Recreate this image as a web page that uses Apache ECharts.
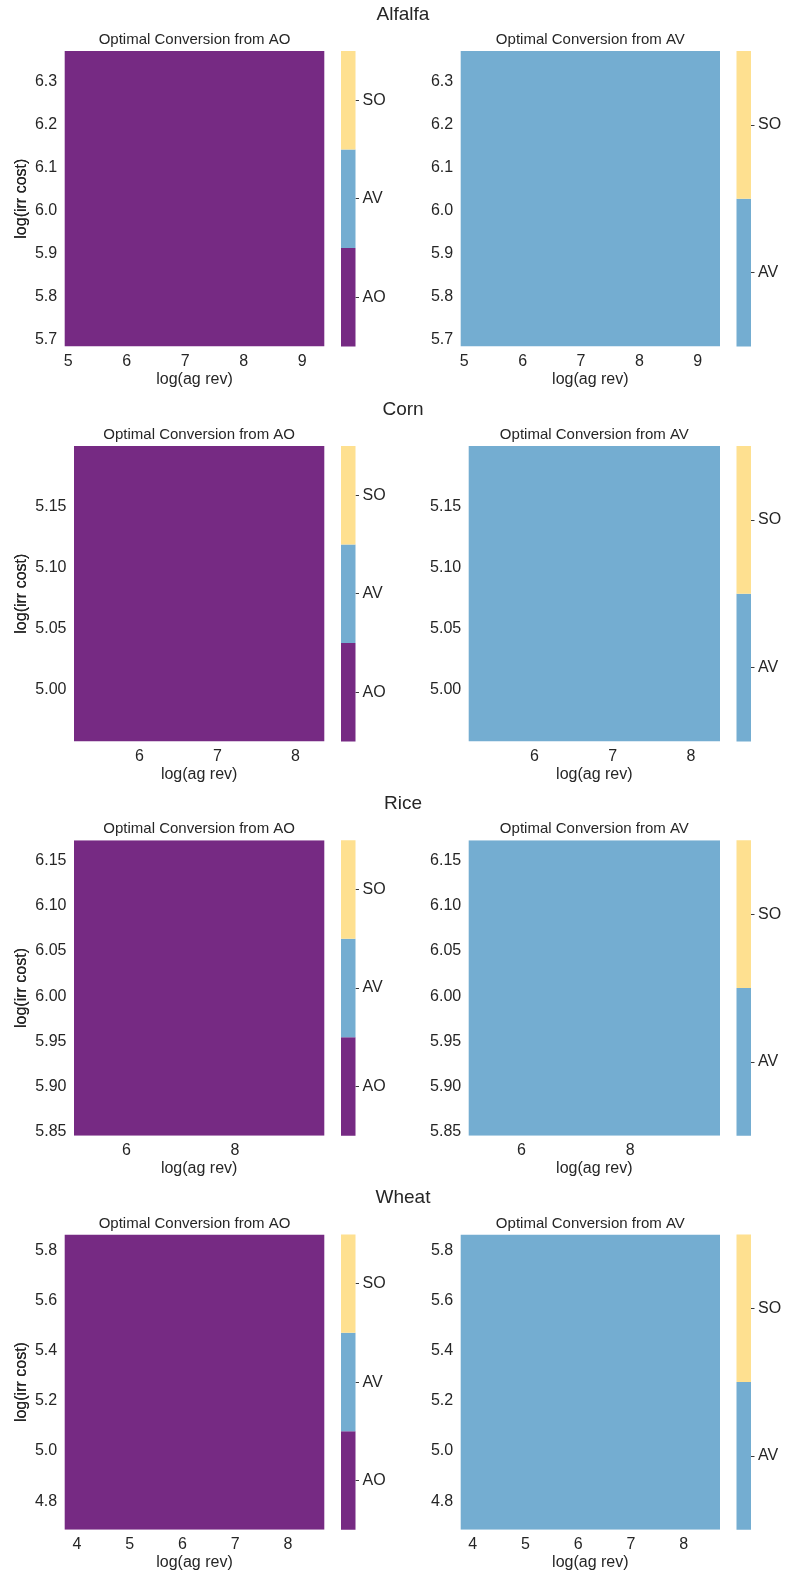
<!DOCTYPE html>
<html>
<head>
<meta charset="utf-8">
<title>Optimal Conversion by Crop</title>
<script src="https://cdn.jsdelivr.net/npm/echarts@6/dist/echarts.min.js"></script>
<style>
  html, body { margin: 0; padding: 0; background: #ffffff; }
  #chart { width: 786px; height: 1577px; }
</style>
</head>
<body>
<div id="chart"></div>
<script>
// Crops, one row of panels each
const crops = ['Alfalfa', 'Corn', 'Rice', 'Wheat'];

// Extent of the log(ag rev) grid for each crop
const agRevMin = [4.94, 5.16, 5.03, 3.77];
const agRevMax = [9.38, 8.37, 9.65, 8.69];

// Extent of the log(irr cost) grid for each crop
const irrCostMin = [5.683, 4.957, 5.846, 4.686];
const irrCostMax = [6.372, 5.200, 6.172, 5.863];

// Tick values
const agRevTicks = [[5, 6, 7, 8, 9], [6, 7, 8], [6, 8], [4, 5, 6, 7, 8]];
const irrCostTicks = [
  [5.7, 5.8, 5.9, 6.0, 6.1, 6.2, 6.3],
  [5.00, 5.05, 5.10, 5.15],
  [5.85, 5.90, 5.95, 6.00, 6.05, 6.10, 6.15],
  [4.8, 5.0, 5.2, 5.4, 5.6, 5.8]
];
const irrCostDecimals = [1, 2, 2, 1];

// Possible outcomes (colorbar categories) for each starting land use
const outcomesFromAO = ['AO', 'AV', 'SO'];
const outcomesFromAV = ['AV', 'SO'];

// Optimal conversion over each crop's whole grid
const bestFromAO = ['AO', 'AO', 'AO', 'AO'];
const bestFromAV = ['AV', 'AV', 'AV', 'AV'];

const outcomeColors = { AO: '#762a83', AV: '#74add1', SO: '#fee090' };

const FONT = '"Liberation Sans", Arial, Helvetica, sans-serif';
const INK = '#262626';

// Layout
const rowTop = [51, 446, 840.3, 1234.4];
const plotH = 295.4;
const leftX0 = [64.7, 74, 74, 64.7];
const leftX1 = 324.3;
const rightX0 = [460.7, 468.7, 468.7, 460.7];
const rightX1 = 720;
const cbX = [341, 736.5];
const cbW = 14.5;

const grids = [], xAxes = [], yAxes = [], series = [], titles = [];

function addPanel(row, col, best, outcomes) {
  const x0 = col === 0 ? leftX0[row] : rightX0[row];
  const x1 = col === 0 ? leftX1 : rightX1;
  const top = rowTop[row];
  const gi = grids.length;
  const dec = irrCostDecimals[row];
  const fieldData = [{ name: best, value: [agRevMin[row], agRevMax[row], irrCostMin[row], irrCostMax[row]] }];

  grids.push({
    left: x0, top: top, width: x1 - x0, height: plotH,
    show: true, borderWidth: 1, borderColor: 'rgba(255,255,255,0.35)', backgroundColor: 'transparent'
  });
  xAxes.push({
    gridIndex: gi, type: 'value', min: agRevMin[row], max: agRevMax[row],
    axisLine: { show: false }, axisTick: { show: false }, splitLine: { show: false },
    axisLabel: {
      customValues: agRevTicks[row], margin: 7, color: INK, fontSize: 16, fontFamily: FONT,
      formatter: v => String(Math.round(v))
    },
    name: 'log(ag rev)', nameLocation: 'middle', nameGap: 25,
    nameTextStyle: { color: INK, fontSize: 16, fontFamily: FONT }
  });
  yAxes.push({
    gridIndex: gi, type: 'value', min: irrCostMin[row], max: irrCostMax[row],
    axisLine: { show: false }, axisTick: { show: false }, splitLine: { show: false },
    axisLabel: {
      customValues: irrCostTicks[row], margin: 7.5, color: INK, fontSize: 16, fontFamily: FONT,
      formatter: v => v.toFixed(dec)
    },
    name: 'log(irr cost)', nameLocation: 'middle', nameGap: x0 - 22 - 8, nameRotate: 90,
    nameTextStyle: { color: INK, fontSize: 16, fontFamily: FONT }
  });
  series.push({
    type: 'custom', xAxisIndex: gi, yAxisIndex: gi, clip: true, silent: true,
    renderItem: function (params, api) {
      const tl = api.coord([api.value(0), api.value(3)]);
      const br = api.coord([api.value(1), api.value(2)]);
      return {
        type: 'rect',
        shape: { x: tl[0], y: tl[1], width: br[0] - tl[0], height: br[1] - tl[1] },
        style: { fill: outcomeColors[fieldData[params.dataIndex].name] }
      };
    },
    data: fieldData
  });
  titles.push({
    text: 'Optimal Conversion from ' + (col === 0 ? 'AO' : 'AV'),
    left: (x0 + x1) / 2, textAlign: 'center', top: top - 18.5, padding: 0,
    textStyle: { color: INK, fontSize: 15, fontWeight: 'normal', fontFamily: FONT }
  });

  // Colorbar
  const ci = grids.length;
  grids.push({ left: cbX[col], top: top, width: cbW, height: plotH });
  xAxes.push({ gridIndex: ci, type: 'value', min: 0, max: 1, show: false });
  yAxes.push({
    gridIndex: ci, type: 'category', data: outcomes, position: 'right',
    axisLine: { show: false, onZero: false },
    axisTick: { show: true, alignWithLabel: true, length: 3.5, lineStyle: { color: '#3a3a3a', width: 1 } },
    axisLabel: { margin: 7, color: INK, fontSize: 16, fontFamily: FONT },
    splitLine: { show: false }
  });
  series.push({
    type: 'custom', xAxisIndex: ci, yAxisIndex: ci, silent: true,
    renderItem: function (params, api) {
      const c = api.coord([0, api.value(1)]);
      const c1 = api.coord([1, api.value(1)]);
      const h = api.size([0, 1])[1];
      return {
        type: 'rect',
        shape: { x: c[0], y: c[1] - h / 2, width: c1[0] - c[0], height: h },
        style: { fill: outcomeColors[outcomes[params.dataIndex]] }
      };
    },
    data: outcomes.map((o, i) => [0, i])
  });
}

crops.forEach((crop, r) => {
  titles.push({
    text: crop, left: 403, textAlign: 'center', top: rowTop[r] - 46, padding: 0,
    textStyle: { color: INK, fontSize: 19, fontWeight: 'normal', fontFamily: FONT }
  });
  addPanel(r, 0, bestFromAO[r], outcomesFromAO);
  addPanel(r, 1, bestFromAV[r], outcomesFromAV);
});

const chart = echarts.init(document.getElementById('chart'), null, { renderer: 'canvas' });
chart.setOption({
  backgroundColor: '#ffffff',
  animation: false,
  title: titles,
  grid: grids,
  xAxis: xAxes,
  yAxis: yAxes,
  series: series
});
</script>
</body>
</html>
